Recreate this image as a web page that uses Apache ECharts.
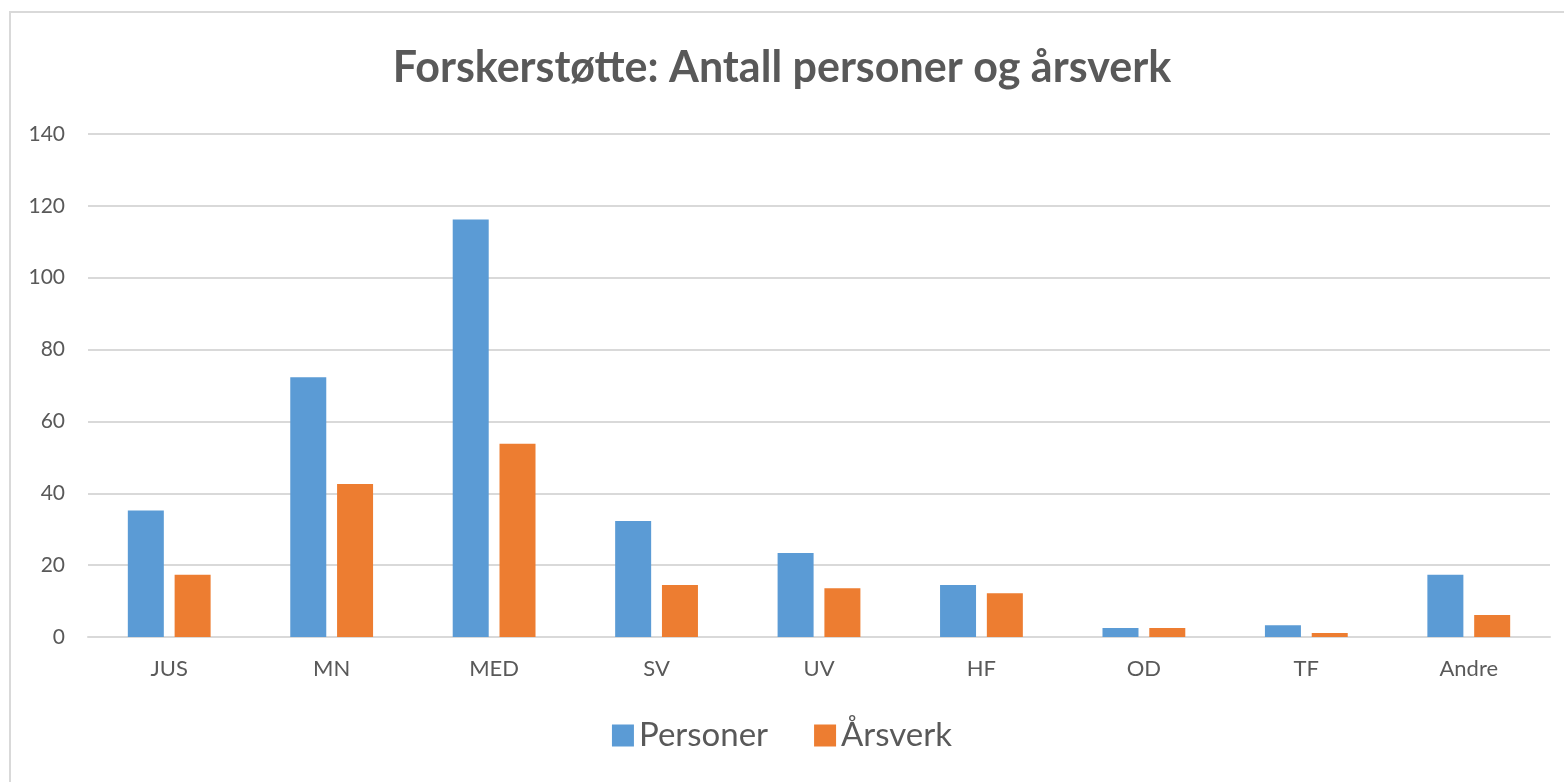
<!DOCTYPE html>
<html>
<head>
<meta charset="utf-8">
<script src="https://cdn.jsdelivr.net/npm/echarts@6/dist/echarts.min.js"></script>
<style>html,body{margin:0;padding:0;background:#fff}#c{width:1564px;height:782px}</style>
</head>
<body>
<div id="c"></div>
<script>
const titleText = 'Forskerstøtte: Antall personer og årsverk';
const categories = ['JUS','MN','MED','SV','UV','HF','OD','TF','Andre'];
const seriesNames = ['Personer','Årsverk'];
const personer = [35.2, 72.3, 116.2, 32.3, 23.4, 14.5, 2.5, 3.3, 17.3];
const arsverk = [17.3, 42.6, 53.8, 14.5, 13.6, 12.2, 2.5, 1.1, 6.1];
const yTicks = [0, 20, 40, 60, 80, 100, 120, 140];

const chart = echarts.init(document.getElementById('c'), null, {renderer:'canvas'});
const font = 'Lato, "Open Sans", sans-serif';
chart.setOption({
  animation:false,
  textStyle:{fontFamily:font},
  graphic:[{type:'rect',shape:{x:10,y:12,width:1600,height:800},style:{fill:'none',stroke:'#d9d9d9',lineWidth:2},silent:true}],
  title:{text:titleText,left:'center',top:42,textStyle:{fontSize:43,fontWeight:'bold',color:'#595959',fontFamily:font}},
  legend:{data:seriesNames,bottom:25,left:'center',itemWidth:22,itemHeight:22,itemGap:46,icon:'rect',
    textStyle:{fontSize:33,color:'#595959',fontFamily:font}},
  grid:{left:88,right:14,top:134,bottom:145,containLabel:false},
  xAxis:{type:'category',data:categories,axisTick:{show:false},
    axisLine:{lineStyle:{color:'#d9d9d9',width:2}},
    axisLabel:{fontSize:22,color:'#595959',margin:21,fontFamily:font}},
  yAxis:{type:'value',min:yTicks[0],max:yTicks[yTicks.length-1],interval:20,
    axisLine:{show:false},axisTick:{show:false},
    splitLine:{lineStyle:{color:'#d9d9d9',width:2}},
    axisLabel:{fontSize:21,color:'#595959',margin:23,fontFamily:font}},
  series:[
    {name:seriesNames[0],type:'bar',data:personer,barWidth:36,barGap:'30%',itemStyle:{color:'#5b9bd5'}},
    {name:seriesNames[1],type:'bar',data:arsverk,barWidth:36,barGap:'30%',itemStyle:{color:'#ed7d31'}}
  ]
});
</script>
</body>
</html>
